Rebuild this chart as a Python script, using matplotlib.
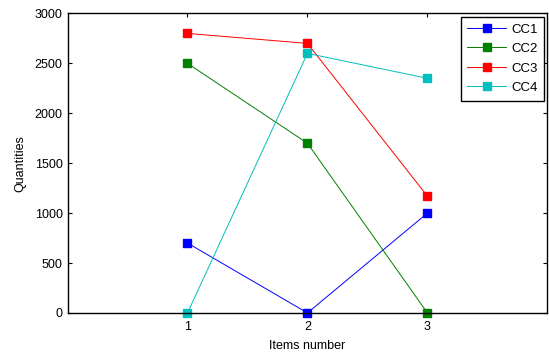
import matplotlib
matplotlib.use("Agg")
import matplotlib.pyplot as plt

plt.rcParams["font.family"] = ["Liberation Sans", "DejaVu Sans"]
plt.rcParams["font.size"] = 9

items = [1, 2, 3]
cc1 = [700, 0, 1000]
cc2 = [2500, 1700, 0]
cc3 = [2800, 2700, 1170]
cc4 = [0, 2600, 2350]
series = [("CC1", cc1, "#0000ff"), ("CC2", cc2, "#008000"),
          ("CC3", cc3, "#ff0000"), ("CC4", cc4, "#00bfbf")]

fig = plt.figure(figsize=(5.49, 3.54), dpi=100)
ax = fig.add_axes([0.123, 0.116, 0.874, 0.846])

for name, vals, col in series:
    ax.plot(items, vals, color=col, lw=0.7, marker="s", ms=6.3,
            markerfacecolor=col, markeredgecolor=col, label=name, clip_on=False)

ax.set_xlim(0, 4)
ax.set_ylim(0, 3000)
ax.set_xticks(items)
ax.set_yticks(range(0, 3001, 500))
ax.tick_params(direction="in", top=True, right=True, length=3, width=0.8, colors="black")
ax.tick_params(axis="x", pad=6)
for s in ax.spines.values():
    s.set_linewidth(1.0)
ax.set_xlabel("Items number", labelpad=5)
ax.set_ylabel("Quantities", labelpad=6)

leg = ax.legend(loc="upper right", fancybox=False, edgecolor="black", framealpha=1,
                borderaxespad=0.25, handlelength=2.9, handletextpad=0.4,
                borderpad=0.5, fontsize=9.5, labelspacing=0.55)
leg.get_frame().set_linewidth(1.0)

fig.savefig("out.png", dpi=100)
